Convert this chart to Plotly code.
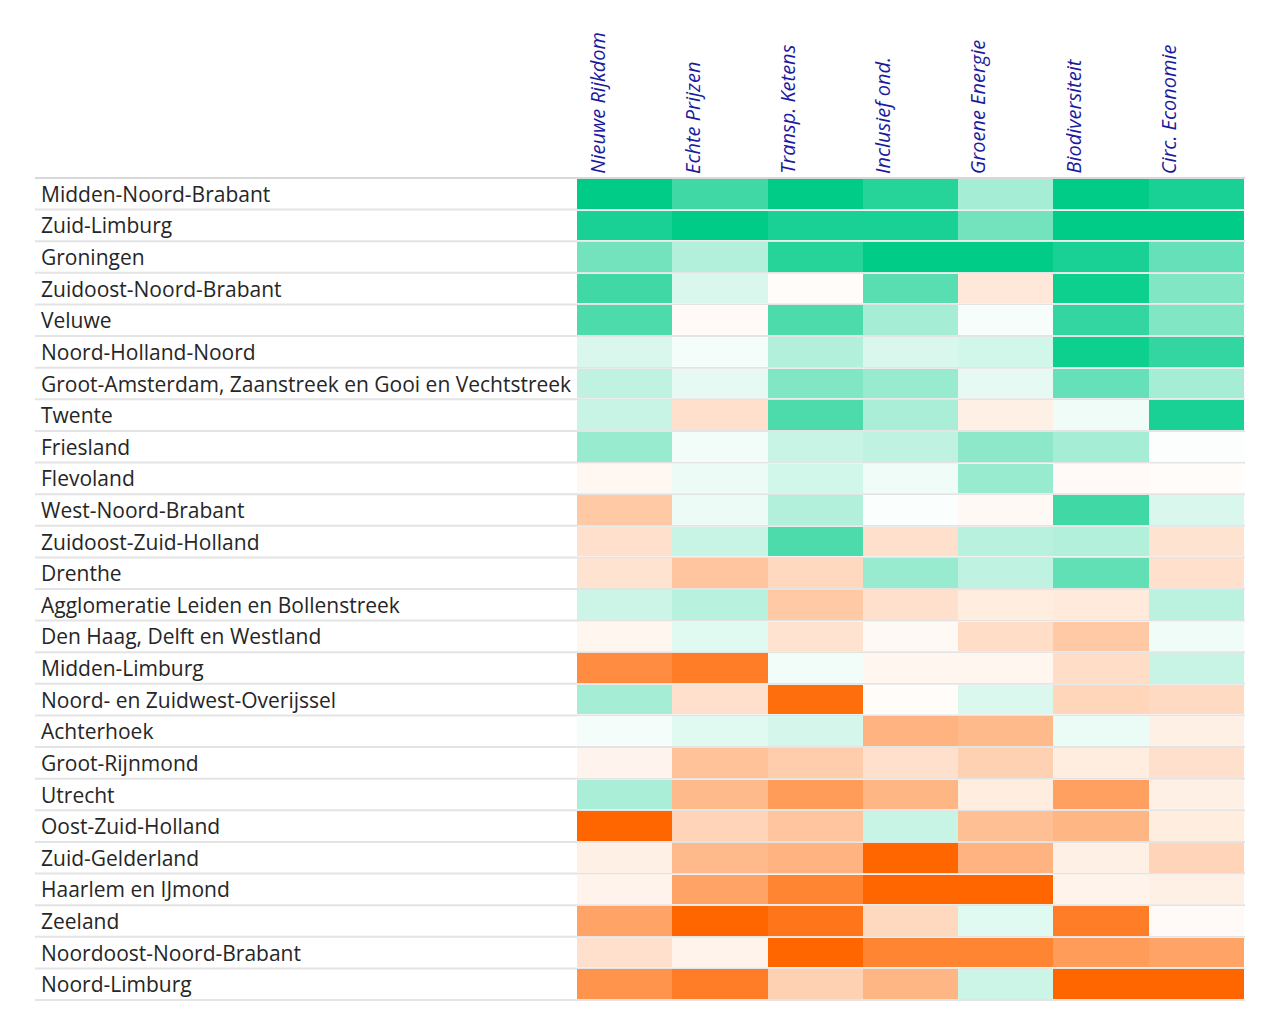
import plotly.graph_objects as go

regions = [
    "Midden-Noord-Brabant", "Zuid-Limburg", "Groningen", "Zuidoost-Noord-Brabant",
    "Veluwe", "Noord-Holland-Noord", "Groot-Amsterdam, Zaanstreek en Gooi en Vechtstreek",
    "Twente", "Friesland", "Flevoland", "West-Noord-Brabant", "Zuidoost-Zuid-Holland",
    "Drenthe", "Agglomeratie Leiden en Bollenstreek", "Den Haag, Delft en Westland",
    "Midden-Limburg", "Noord- en Zuidwest-Overijssel", "Achterhoek", "Groot-Rijnmond",
    "Utrecht", "Oost-Zuid-Holland", "Zuid-Gelderland", "Haarlem en IJmond", "Zeeland",
    "Noordoost-Noord-Brabant", "Noord-Limburg",
]
themes = ["Nieuwe Rijkdom", "Echte Prijzen", "Transp. Ketens", "Inclusief ond.",
          "Groene Energie", "Biodiversiteit", "Circ. Economie"]

nieuwe_rijkdom = [1.0, 0.9, 0.55, 0.75, 0.7, 0.15, 0.25, 0.22, 0.4, -0.05, -0.35, -0.2, -0.18,
                  0.2, -0.06, -0.75, 0.35, 0.04, -0.07, 0.33, -1.0, -0.1, -0.08, -0.6, -0.2, -0.7]
echte_prijzen = [0.75, 1.0, 0.3, 0.15, -0.03, 0.04, 0.1, -0.2, 0.05, 0.07, 0.07, 0.22, -0.38,
                 0.28, 0.12, -0.85, -0.2, 0.12, -0.4, -0.45, -0.28, -0.45, -0.6, -1.0, -0.08, -0.85]
transp_ketens = [1.0, 0.9, 0.85, -0.02, 0.7, 0.3, 0.5, 0.7, 0.22, 0.18, 0.3, 0.7, -0.25,
                 -0.35, -0.18, 0.05, -0.95, 0.17, -0.33, -0.65, -0.38, -0.5, -0.8, -0.9, -1.0, -0.3]
inclusief_ond = [0.85, 0.9, 1.0, 0.65, 0.35, 0.15, 0.4, 0.33, 0.25, 0.06, 0.02, -0.2, 0.4,
                 -0.2, -0.04, -0.06, -0.02, -0.5, -0.2, -0.48, 0.22, -1.0, -1.0, -0.25, -0.8, -0.48]
groene_energie = [0.35, 0.55, 1.0, -0.15, 0.03, 0.18, 0.1, -0.1, 0.45, 0.4, -0.04, 0.28, 0.25,
                  -0.12, -0.22, -0.06, 0.14, -0.45, -0.3, -0.12, -0.42, -0.5, -1.0, 0.12, -0.8, 0.2]
biodiversiteit = [1.0, 1.0, 0.9, 0.95, 0.8, 0.95, 0.6, 0.06, 0.35, -0.03, 0.75, 0.3, 0.62,
                  -0.14, -0.35, -0.22, -0.27, 0.08, -0.12, -0.62, -0.48, -0.1, -0.08, -0.85, -0.65, -1.0]
circ_economie = [0.9, 1.0, 0.6, 0.5, 0.5, 0.8, 0.35, 0.9, 0.01, -0.02, 0.15, -0.18, -0.2,
                 0.27, 0.06, 0.22, -0.24, -0.1, -0.2, -0.1, -0.12, -0.28, -0.1, -0.03, -0.6, -1.0]

columns = [nieuwe_rijkdom, echte_prijzen, transp_ketens, inclusief_ond,
           groene_energie, biodiversiteit, circ_economie]
z = [[col[i] for col in columns] for i in range(len(regions))]

colorscale = [[0.0, "#FF6600"], [0.5, "#FFFFFF"], [1.0, "#00CC88"]]

fig = go.Figure(go.Heatmap(
    z=z, x=themes, y=regions, zmin=-1, zmax=1, colorscale=colorscale,
    showscale=False, ygap=2, xgap=0, hoverongaps=False,
))

W, H = 1280, 1027
L, R, T, B = 569, 44, 169, 34
pw = W - L - R

shapes = []
x0 = (27 - L) / pw
x1 = (1237 - L) / pw
for i in range(len(regions)):
    shapes.append(dict(type="line", xref="paper", yref="y", x0=x0, x1=x1,
                       y0=i + 0.5, y1=i + 0.5, line=dict(color="#e4e4e4", width=2),
                       layer="below"))
shapes.append(dict(type="line", xref="paper", yref="y", x0=x0, x1=x1,
                   y0=-0.5, y1=-0.5, line=dict(color="#d8d8d8", width=2), layer="below"))

annotations = []
for r in regions:
    annotations.append(dict(text=r, xref="paper", yref="y", x=(31 - L) / pw, y=r,
                            xanchor="left", yanchor="middle", showarrow=False,
                            font=dict(family="Open Sans", size=21, color="#262626")))
for t in themes:
    annotations.append(dict(text=t, xref="x", yref="paper", x=t, y=1, yshift=1,
                            xshift=-28, xanchor="center", yanchor="bottom",
                            textangle=-90, showarrow=False,
                            font=dict(family="Open Sans", size=20, color="#1b1b9e",
                                      style="italic")))

fig.update_layout(
    width=W, height=H, margin=dict(l=L, r=R, t=T, b=B),
    paper_bgcolor="white", plot_bgcolor="white",
    xaxis=dict(showticklabels=False, showgrid=False, zeroline=False, ticks=""),
    yaxis=dict(showticklabels=False, showgrid=False, zeroline=False, ticks="",
               autorange="reversed"),
    shapes=shapes, annotations=annotations,
)

fig.write_html("out.html")
